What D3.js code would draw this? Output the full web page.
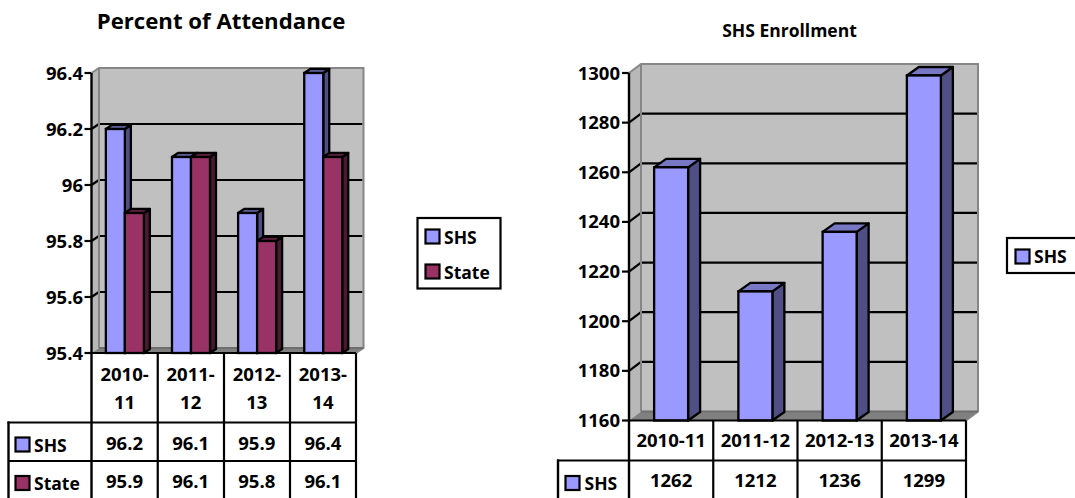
<!DOCTYPE html>
<meta charset="utf-8">
<title>Percent of Attendance / SHS Enrollment</title>
<style>
html,body{margin:0;padding:0;background:#fff;}
svg{display:block;}
text{font-family:'Open Sans',Lato,sans-serif;font-weight:700;fill:#000;}
</style>
<svg width="1075" height="498"></svg>
<script src="https://d3js.org/d3.v7.min.js"></script>
<script>
// attendance chart
var attYears = [["2010-","11"],["2011-","12"],["2012-","13"],["2013-","14"]];
var attShs = [96.2,96.1,95.9,96.4];
var attState = [95.9,96.1,95.8,96.1];
var attTicks = [95.4,95.6,95.8,96,96.2,96.4];
// enrollment chart
var enrYears = ["2010-11","2011-12","2012-13","2013-14"];
var enrShs = [1262,1212,1236,1299];
var enrTicks = [1160,1180,1200,1220,1240,1260,1280,1300];

var SHS = {fill:"#9999ff",side:"#4f4f85",top:"#7777c4"};
var STATE = {fill:"#993366",side:"#4a1a33",top:"#7a2952"};

var svg = d3.select("svg");

function poly(g,pts,fill,stroke,sw){
  return g.append("polygon").attr("points",pts.map(function(p){return p.join(",");}).join(" "))
    .attr("fill",fill).attr("stroke",stroke||"none").attr("stroke-width",sw||0).attr("stroke-linejoin","round");
}
function line(g,x1,y1,x2,y2,sw,col){
  g.append("line").attr("x1",x1).attr("y1",y1).attr("x2",x2).attr("y2",y2)
    .attr("stroke",col||"#000").attr("stroke-width",sw||2);
}
function label(g,x,y,s,size,anchor){
  return g.append("text").attr("x",x).attr("y",y).attr("font-size",size).attr("text-anchor",anchor||"middle").text(s);
}

// walls, floor, grid, axis - the part behind the bars
function frame(o){
  var g = svg.append("g");
  var x0=o.x0, x1=o.x1, yT=o.y(o.ticks[o.ticks.length-1]), yB=o.y(o.ticks[0]), dx=o.dx, dy=o.dy;
  poly(g,[[x0+dx,yT-dy],[x1+dx,yT-dy],[x1+dx,yB-dy],[x0+dx,yB-dy]],"#c0c0c0");
  poly(g,[[x0,yT],[x0+dx,yT-dy],[x0+dx,yB-dy],[x0,yB]],"#b8b8b8");
  poly(g,[[x0,yB],[x0+dx,yB-dy],[x1+dx,yB-dy],[x1,yB]],"#808080");
  o.ticks.forEach(function(t,i){
    var y=o.y(t);
    line(g,x0-7,y,x0,y,2.2);
    if(i>0 && i<o.ticks.length-1){
      line(g,x0,y,x0+dx,y-dy,2.2);
      line(g,x0+dx,y-dy,x1+dx-1,y-dy,2.2);
    }
    label(g,o.tickX,y+o.tickDy,d3.format("")(t),o.tickSize,"end");
  });
  // grey wall outline
  g.append("path").attr("d","M"+x0+","+yT+"L"+(x0+dx)+","+(yT-dy)+"L"+(x1+dx)+","+(yT-dy)+"L"+(x1+dx)+","+(yB-dy)+"L"+x1+","+yB)
    .attr("fill","none").attr("stroke","#868686").attr("stroke-width",2);
  line(g,x0+dx,yT-dy,x0+dx,yB-dy,2,"#868686");
  line(g,x0+dx,yB-dy,x1+dx,yB-dy,2,"#6e6e6e");
  return g;
}

function bar(g,x,w,y,yB,dx,dy,c){
  poly(g,[[x+w,y],[x+w+dx,y-dy],[x+w+dx,yB-dy],[x+w,yB]],c.side,"#000",2.3);
  poly(g,[[x,y],[x+dx,y-dy],[x+w+dx,y-dy],[x+w,y]],c.top,"#000",2.3);
  g.append("rect").attr("x",x).attr("y",y).attr("width",w).attr("height",yB-y)
    .attr("fill",c.fill).attr("stroke","#000").attr("stroke-width",2.3);
}

function swatch(g,x,y,c){
  g.append("rect").attr("x",x).attr("y",y).attr("width",14).attr("height",14)
    .attr("fill",c.fill).attr("stroke","#000").attr("stroke-width",2.2);
}

// ---- left chart
var ax = d3.scaleBand().domain(d3.range(attYears.length)).range([91.5,356]);
var ay = d3.scaleLinear().domain([95.4,96.4]).range([353,73]);
var gA = frame({x0:91.5,x1:356,y:ay,ticks:attTicks,dx:7.5,dy:5,tickX:83,tickDy:7,tickSize:18.5});
var aw = 19;
attYears.forEach(function(d,i){
  var cx = ax(i)+ax.bandwidth()/2;
  bar(gA,cx-aw+0.3,aw,ay(attShs[i]),353,6,4,SHS);
  bar(gA,cx+0.3,aw,ay(attState[i]),353,6,4,STATE);
});
line(gA,91.5,73,91.5,498,2.4);
line(gA,91,353,356,353,2.2);
label(svg,221,28.5,"Percent of Attendance",22.2);

// table
var tA = svg.append("g");
[157.75,224,290,356].forEach(function(x){ line(tA,x,353,x,498,2.2); });
line(tA,7.5,422.5,356,422.5,2.2);
line(tA,8.5,461,356,461,2.2);
line(tA,8.5,421.5,8.5,498,2.4);
attYears.forEach(function(d,i){
  var cx = ax(i)+ax.bandwidth()/2;
  label(tA,cx,381,d[0],18.5);
  label(tA,cx,408.5,d[1],18.5);
  label(tA,cx,450,d3.format(".1f")(attShs[i]),18.5);
  label(tA,cx,488,d3.format(".1f")(attState[i]),18.5);
});
swatch(tA,15.5,437.5,SHS);
label(tA,34,451.5,"SHS",17.5,"start");
swatch(tA,15.5,476,STATE);
label(tA,34,490,"State",17.5,"start");

// legend
var lA = svg.append("g");
lA.append("rect").attr("x",417.5).attr("y",218).attr("width",83).attr("height",70.5)
  .attr("fill","#fff").attr("stroke","#000").attr("stroke-width",2.2);
swatch(lA,425.5,229.5,SHS);
label(lA,444,244,"SHS",17.5,"start");
swatch(lA,425.5,264.5,STATE);
label(lA,444,279,"State",17.5,"start");

// ---- right chart
var ex = d3.scaleBand().domain(enrYears).range([629,966]);
var ey = d3.scaleLinear().domain([1160,1300]).range([420.5,73]);
var gE = frame({x0:629,x1:966,y:ey,ticks:enrTicks,dx:12,dy:9,tickX:620,tickDy:6.5,tickSize:18.5});
enrYears.forEach(function(d,i){
  var cx = ex(d)+ex.bandwidth()/2;
  bar(gE,cx-17,34,ey(enrShs[i]),420.5,12,8.5,SHS);
});
line(gE,629,73,629,498,2.4);
line(gE,629,420.5,966,420.5,2.2);
label(svg,789.5,37,"SHS Enrollment",17.5);

var tE = svg.append("g");
[713.25,797.5,881.75,966].forEach(function(x){ line(tE,x,420.5,x,498,2.2); });
line(tE,557,460.5,966,460.5,2.2);
line(tE,558,459.5,558,498,2.4);
enrYears.forEach(function(d,i){
  var cx = ex(d)+ex.bandwidth()/2;
  label(tE,cx,447,d,18.5);
  label(tE,cx,487,enrShs[i],18.5);
});
swatch(tE,565.5,476,SHS);
label(tE,584.5,490,"SHS",17.5,"start");

var lE = svg.append("g");
lE.append("rect").attr("x",1007).attr("y",238).attr("width",90).attr("height",35)
  .attr("fill","#fff").attr("stroke","#000").attr("stroke-width",2.2);
swatch(lE,1015.5,249.5,SHS);
label(lE,1034,263,"SHS",17.5,"start");
</script>
